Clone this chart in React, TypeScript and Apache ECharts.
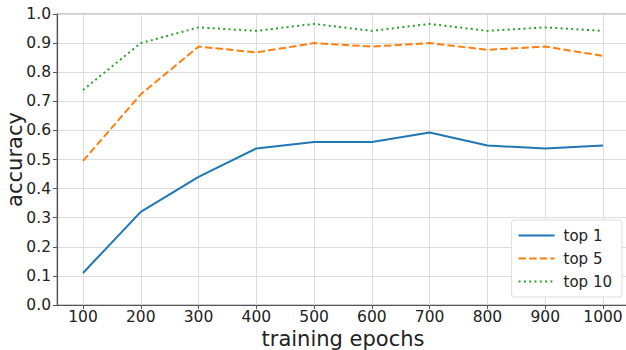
import React, { useEffect, useRef } from "react";
import * as echarts from "echarts";

const epochs = [100, 200, 300, 400, 500, 600, 700, 800, 900, 1000];
const top1 = [0.11, 0.32, 0.44, 0.538, 0.56, 0.56, 0.593, 0.548, 0.538, 0.548];
const top5 = [0.495, 0.724, 0.888, 0.868, 0.9, 0.888, 0.9, 0.877, 0.888, 0.856];
const top10 = [0.739, 0.9, 0.954, 0.942, 0.966, 0.942, 0.966, 0.942, 0.954, 0.942];
const seriesNames = ["top 1", "top 5", "top 10"];

const font = "DejaVu Sans";

export default function App() {
  const ref = useRef<HTMLDivElement>(null);
  useEffect(() => {
    if (!ref.current) return;
    const chart = echarts.init(ref.current, null, { renderer: "svg" });
    const mk = (vals: number[]) => epochs.map((e, i) => [e, vals[i]]);
    chart.setOption({
      animation: false,
      backgroundColor: "#fff",
      grid: {
        left: 57,
        top: 14,
        right: -3,
        bottom: 45,
        containLabel: false,
        outerBoundsMode: "none",
        show: true,
        borderColor: "#999",
        borderWidth: 1,
      },
      legend: {
        orient: "vertical",
        right: 4,
        bottom: 53,
        data: seriesNames,
        itemWidth: 36,
        itemHeight: 10,
        itemGap: 8,
        padding: [8, 10, 8, 6],
        backgroundColor: "#fff",
        borderColor: "#ddd",
        borderWidth: 1,
        borderRadius: 3,
        itemStyle: { opacity: 0 },
        textStyle: { fontFamily: font, fontSize: 15, color: "#222", padding: [0, 0, 0, 4] },
      },
      xAxis: {
        type: "value",
        min: 55,
        max: 1045,
        name: "training epochs",
        nameLocation: "middle",
        nameGap: 23,
        nameMoveOverlap: false,
        nameTextStyle: { fontFamily: font, fontSize: 21, color: "#222" },
        axisLine: { show: true, lineStyle: { color: "#555", width: 1.2 } },
        axisTick: { show: true, customValues: epochs, length: 4, lineStyle: { color: "#555" } },
        axisLabel: {
          customValues: epochs,
          fontFamily: font,
          fontSize: 15.5,
          color: "#222",
          margin: 4,
          formatter: (v: number) => String(v),
        },
        splitLine: { show: true, lineStyle: { color: "#ddd", width: 1 } },
      },
      yAxis: {
        type: "value",
        min: 0,
        max: 1,
        interval: 0.1,
        name: "accuracy",
        nameLocation: "middle",
        nameGap: 32,
        nameMoveOverlap: false,
        nameTextStyle: { fontFamily: font, fontSize: 21, color: "#222" },
        axisLine: { show: true, lineStyle: { color: "#555", width: 1.2 } },
        axisTick: { show: true, length: 4, lineStyle: { color: "#555" } },
        axisLabel: {
          fontFamily: font,
          fontSize: 15.5,
          color: "#222",
          margin: 6,
          formatter: (v: number) => v.toFixed(1),
        },
        splitLine: { show: true, lineStyle: { color: "#ddd", width: 1 } },
      },
      series: [
        {
          name: seriesNames[0],
          type: "line",
          data: mk(top1),
          symbol: "none",
          color: "#1f77b4",
          lineStyle: { width: 2, type: "solid", color: "#1f77b4" },
        },
        {
          name: seriesNames[1],
          type: "line",
          data: mk(top5),
          symbol: "none",
          color: "#ff7f0e",
          lineStyle: { width: 2, type: [7.4, 3.2], color: "#ff7f0e" },
        },
        {
          name: seriesNames[2],
          type: "line",
          data: mk(top10),
          symbol: "none",
          color: "#2ca02c",
          lineStyle: { width: 2, type: [2, 3.3], color: "#2ca02c" },
        },
      ],
    });
    return () => chart.dispose();
  }, []);
  return <div ref={ref} style={{ width: 626, height: 350, position: "absolute", left: 0, top: 0 }} />;
}
